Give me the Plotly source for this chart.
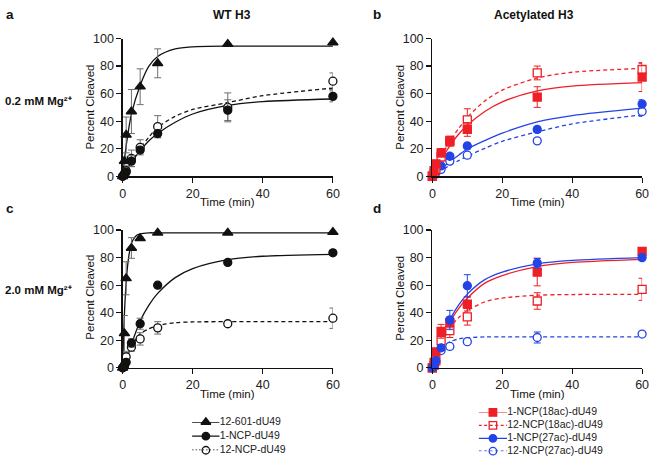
import plotly.graph_objects as go

W, H = 656, 465
FONT = "Arial, 'Liberation Sans', sans-serif"
RED = "#ee1f26"
BLUE = "#2443e6"
BLACK = "#111111"
ERRGRAY = "#6e6e6e"

# ---------------- data ----------------
t_obs = [0, 0.5, 1, 2.5, 5, 10, 30, 60]
t_fit = [0, 1, 2.5, 5, 7.5, 10, 15, 20, 30, 40, 60]
t_fit_fast = [0, 0.5, 1, 1.5, 2, 2.5, 3, 4, 5, 7.5, 10, 60]

# panel a (WT H3, 0.2 mM Mg2+)
a_601 = [0, 11, 30, 47, 65, 82, 96, 97]
a_601_err = [0, 3, 13, 16, 13, 10.5, 0, 0]
a_1ncp = [0, 1, 3, 11, 19, 31, 48, 58]
a_1ncp_err = [0, 1, 2, 4, 2, 3, 7.5, 4]
a_12ncp = [0, 2, 4, 13, 21, 36, 50, 69]
a_12ncp_err = [0, 1, 2, 6, 5.5, 8, 10.5, 6]
a_601_fit = [0, 22, 45, 66, 80, 87, 92.5, 94, 94.5, 94.5, 94.5]
a_1ncp_fit = [0, 4.3, 10.3, 18.6, 25.8, 31.1, 39.2, 45.2, 51.4, 54.2, 56.1]
a_12ncp_fit = [0, 3.5, 9.5, 20, 28.5, 35.5, 43.5, 48.5, 53.5, 58.5, 64]

# panel b (Acetylated H3, 0.2 mM Mg2+)
b_18 = [0, 4, 9, 17, 25, 34, 57.5, 72]
b_18_err = [0, 1, 2, 3, 3, 5, 7.5, 10.5]
b_18_12 = [0, 2, 5, 14, 26, 41, 75, 77.5]
b_18_12_err = [0, 1, 2, 3, 3, 8, 5, 4.5]
b_27 = [0, 1.5, 4.5, 7.5, 14.5, 22, 34, 52.5]
b_27_err = [0, 0.5, 1, 1.5, 2, 2, 2, 3]
b_27_12 = [0, 1, 2.3, 5, 11, 15.3, 25.7, 47]
b_27_12_err = [0, 0.5, 1, 1, 1.5, 2, 1.5, 3.5]
b_18_fit = [0, 5.2, 12, 22, 30.5, 37, 47, 54, 62, 65.5, 68]
b_18_12_fit = [0, 5.9, 13.8, 25.4, 34.6, 42.7, 54.7, 62.5, 71.4, 75.5, 78.3]
b_27_fit = [0, 2.3, 5.5, 10.5, 15.3, 19.8, 25.9, 31.3, 39.5, 44, 49.4]
b_27_12_fit = [0, 1.7, 4.1, 7.9, 11.3, 14.6, 20.3, 25.4, 32.2, 38, 44.6]

# panel c (WT H3, 2.0 mM Mg2+)
c_601 = [0, 25, 65, 87, 94, 98, 98, 98.5]
c_601_err = [0, 13, 12, 7.5, 1, 0, 0, 0]
c_1ncp = [0, 1, 4, 18, 32, 60, 76.5, 83.5]
c_1ncp_err = [0, 0.5, 2, 3, 4, 1, 1.5, 1]
c_12ncp = [0, 2, 8, 15, 21, 29, 32, 36]
c_12ncp_err = [0, 1, 3, 3, 4.5, 4.5, 1.5, 7.4]
c_601_fit = [0, 38.6, 62, 76, 84.7, 90, 93, 96.2, 97.3, 98, 98, 98]
c_1ncp_fit = [0, 5, 17, 34, 45.5, 54, 65.5, 72, 78.5, 81, 82.4]
c_12ncp_fit = [0, 7.4, 15.3, 24.7, 28.3, 30.7, 32.7, 33.3, 33.5, 33.5, 33.5]

# panel d (Acetylated H3, 2.0 mM Mg2+)
d_18 = [0, 4, 11.5, 26.5, 33, 46.3, 69.5, 84.5]
d_18_err = [0, 1, 2, 5, 4, 5, 10, 2.5]
d_18_12 = [0, 2, 5, 19.7, 27, 37, 48.5, 57]
d_18_12_err = [0, 1, 1.5, 3, 5, 6, 6, 8]
d_27 = [0, 1, 5.2, 14.5, 34.7, 59.6, 76, 80]
d_27_err = [0, 0.5, 1, 2, 7, 8, 3.5, 2]
d_27_12 = [0, 2, 4, 12.5, 15.5, 19, 22, 24.5]
d_27_12_err = [0, 0.5, 1, 1.5, 2, 1.5, 4, 1.5]
d_18_fit = [0, 4, 14, 33, 43, 50.5, 61.5, 67, 73.5, 76.5, 78.8]
d_18_12_fit = [0, 7.4, 16.1, 28.8, 36.4, 41.4, 47.9, 50.6, 52.7, 53.2, 53.3]
d_27_fit = [0, 4, 14.5, 34.5, 45.5, 53.5, 64, 69.5, 75.5, 78, 80]
d_27_12_fit = [0, 6.6, 13.4, 18.8, 20.9, 21.8, 22.4, 22.5, 22.5, 22.5, 22.5]

x_ticks = [0, 20, 40, 60]
y_ticks = [0, 20, 40, 60, 80, 100]

left_labels = ["12-601-dU49", "1-NCP-dU49", "12-NCP-dU49"]
right_labels = ["1-NCP(18ac)-dU49", "12-NCP(18ac)-dU49", "1-NCP(27ac)-dU49", "12-NCP(27ac)-dU49"]
row_labels = ["0.2 mM Mg²⁺", "2.0 mM Mg²⁺"]

# ---------------- styles ----------------
S601 = dict(color=BLACK, symbol="triangle-up", size=9, fill=BLACK, err=ERRGRAY, dash="solid")
S1 = dict(color=BLACK, symbol="circle", size=8, fill=BLACK, err=ERRGRAY, dash="solid")
S12 = dict(color=BLACK, symbol="circle", size=8, fill="white", err=ERRGRAY, dash="4px,3px")
R18 = dict(color=RED, symbol="square", size=8, fill=RED, err=RED, dash="solid")
R18o = dict(color=RED, symbol="square", size=8, fill="white", err=RED, dash="4px,3px")
B27 = dict(color=BLUE, symbol="circle", size=8, fill=BLUE, err=BLUE, dash="solid")
B27o = dict(color=BLUE, symbol="circle", size=8, fill="white", err=BLUE, dash="4px,3px")

fig = go.Figure()


def px(x):
    return x / W


def py(y):
    return 1 - y / H


panels = {
    "a": ("x", "y"),
    "b": ("x2", "y2"),
    "c": ("x3", "y3"),
    "d": ("x4", "y4"),
}


def add_series(panel, tfit, fit, obs, err, st):
    xa, ya = panels[panel]
    fig.add_trace(go.Scatter(
        x=tfit, y=fit, mode="lines", xaxis=xa, yaxis=ya,
        line=dict(color=st["color"], width=1.3, dash=st["dash"], shape="spline", smoothing=0.8),
        showlegend=False, hoverinfo="skip", cliponaxis=False))
    return (xa, ya, obs, err, st)


def add_points(item):
    xa, ya, obs, err, st = item
    fig.add_trace(go.Scatter(
        x=t_obs, y=obs, mode="markers", xaxis=xa, yaxis=ya,
        marker=dict(symbol=st["symbol"], size=st["size"], color=st["fill"],
                    line=dict(color=st["color"], width=1.3)),
        error_y=dict(type="data", array=err, visible=True, color=st["err"],
                     thickness=1, width=3.5),
        showlegend=False, cliponaxis=False))


pts = []
pts.append(add_series("a", t_fit, a_601_fit, a_601, a_601_err, S601))
pts.append(add_series("a", t_fit, a_12ncp_fit, a_12ncp, a_12ncp_err, S12))
pts.append(add_series("a", t_fit, a_1ncp_fit, a_1ncp, a_1ncp_err, S1))

pts.append(add_series("b", t_fit, b_27_12_fit, b_27_12, b_27_12_err, B27o))
pts.append(add_series("b", t_fit, b_27_fit, b_27, b_27_err, B27))
pts.append(add_series("b", t_fit, b_18_12_fit, b_18_12, b_18_12_err, R18o))
pts.append(add_series("b", t_fit, b_18_fit, b_18, b_18_err, R18))

pts.append(add_series("c", t_fit_fast, c_601_fit, c_601, c_601_err, S601))
pts.append(add_series("c", t_fit, c_12ncp_fit, c_12ncp, c_12ncp_err, S12))
pts.append(add_series("c", t_fit, c_1ncp_fit, c_1ncp, c_1ncp_err, S1))

pts.append(add_series("d", t_fit, d_27_12_fit, d_27_12, d_27_12_err, B27o))
pts.append(add_series("d", t_fit, d_18_12_fit, d_18_12, d_18_12_err, R18o))
pts.append(add_series("d", t_fit, d_18_fit, d_18, d_18_err, R18))
pts.append(add_series("d", t_fit, d_27_fit, d_27, d_27_err, B27))

for p in pts:
    add_points(p)


# ---------------- legends (drawn in their own hidden axes) ----------------
def legend_rows(labels, styles, dashes, xa, ya):
    for i, (lab, st, dsh) in enumerate(zip(labels, styles, dashes)):
        open_sym = st["symbol"] + ("-open" if st["fill"] == "white" else "")
        fig.add_trace(go.Scatter(
            x=[0, 1], y=[i, i], xaxis=xa, yaxis=ya, mode="lines",
            line=dict(color=st["color"], width=1.3, dash=dsh),
            showlegend=False, hoverinfo="skip", cliponaxis=False))
        fig.add_trace(go.Scatter(
            x=[0.5], y=[i], xaxis=xa, yaxis=ya, mode="markers",
            marker=dict(symbol=open_sym, size=st["size"] - 0.5, color=st["color"],
                        line=dict(color=st["color"], width=1.3)),
            showlegend=False, hoverinfo="skip", cliponaxis=False))
        fig.add_trace(go.Scatter(
            x=[1], y=[i], xaxis=xa, yaxis=ya, mode="text",
            text=[lab], textposition="middle right",
            textfont=dict(family=FONT, size=10.5, color="#222"),
            showlegend=False, hoverinfo="skip", cliponaxis=False))


legend_rows(left_labels, [S601, S1, S12], ["solid", "solid", "1.5px,2px"], "x5", "y5")
legend_rows(right_labels, [R18, R18o, B27, B27o], ["solid", "3px,2.5px", "solid", "3px,2.5px"], "x6", "y6")


# ---------------- axes ----------------
def xax(l, r, anchor):
    return dict(domain=[px(l), px(r)], range=[0, 60], anchor=anchor,
                tickvals=x_ticks, ticks="outside", ticklen=5, tickwidth=1.2,
                tickcolor=BLACK, showline=True, linecolor=BLACK, linewidth=1.3,
                showgrid=False, zeroline=False,
                tickfont=dict(family=FONT, size=12.5, color="#222"))


def yax(top, bot, anchor):
    return dict(domain=[py(bot), py(top)], range=[0, 100], anchor=anchor,
                tickvals=y_ticks, ticks="outside", ticklen=5, tickwidth=1.2,
                tickcolor=BLACK, showline=True, linecolor=BLACK, linewidth=1.3,
                showgrid=False, zeroline=False,
                tickfont=dict(family=FONT, size=12.5, color="#222"))


hidden = dict(visible=False, showgrid=False, zeroline=False, fixedrange=True)

fig.update_layout(
    width=W, height=H, autosize=False,
    margin=dict(l=0, r=0, t=0, b=0),
    paper_bgcolor="white", plot_bgcolor="white",
    showlegend=False,
    xaxis=xax(121.5, 335, "y"), yaxis=yax(32.5, 174.5, "x"),
    xaxis2=xax(436, 649, "y2"), yaxis2=yax(32.5, 174.5, "x2"),
    xaxis3=xax(121.5, 335, "y3"), yaxis3=yax(230, 372, "x3"),
    xaxis4=xax(436, 649, "y4"), yaxis4=yax(230, 372, "x4"),
    xaxis5=dict(hidden, domain=[px(192), px(220)], range=[0, 1], anchor="y5"),
    yaxis5=dict(hidden, domain=[py(457), py(428)], range=[2, 0], anchor="x5"),
    xaxis6=dict(hidden, domain=[px(483), px(512)], range=[0, 1], anchor="y6"),
    yaxis6=dict(hidden, domain=[py(458), py(418)], range=[3, 0], anchor="x6"),
)

ann = []


def text(x, y, s, size, bold=False, angle=0, xanchor="center"):
    ann.append(dict(x=px(x), y=py(y), xref="paper", yref="paper", text=("<b>%s</b>" % s) if bold else s,
                    showarrow=False, textangle=angle, xanchor=xanchor, yanchor="middle",
                    font=dict(family=FONT, size=size, color="#111")))


text(1, 8, "a", 13.5, True, xanchor="left")
text(374, 8, "b", 13.5, True, xanchor="left")
text(1, 208, "c", 13.5, True, xanchor="left")
text(374, 208, "d", 13.5, True, xanchor="left")
text(233, 8, "WT H3", 12, True)
text(539, 8, "Acetylated H3", 12, True)
text(0, 97, row_labels[0], 11.5, True, xanchor="left")
text(0, 292, row_labels[1], 11.5, True, xanchor="left")
for (xx, yy) in [(88, 103), (403, 103), (88, 299), (403, 300)]:
    text(xx, yy, "Percent Cleaved", 11.5, angle=-90)
for (xx, yy) in [(228, 201), (543, 201), (228, 399), (543, 399)]:
    text(xx, yy, "Time (min)", 11.5)

fig.update_layout(annotations=ann)

fig.write_html(
    "out.html",
    config={"displayModeBar": False, "staticPlot": True},
    post_script="document.body.style.margin='0';document.body.style.padding='0';"
                "document.documentElement.style.margin='0';document.documentElement.style.overflow='hidden';",
)
